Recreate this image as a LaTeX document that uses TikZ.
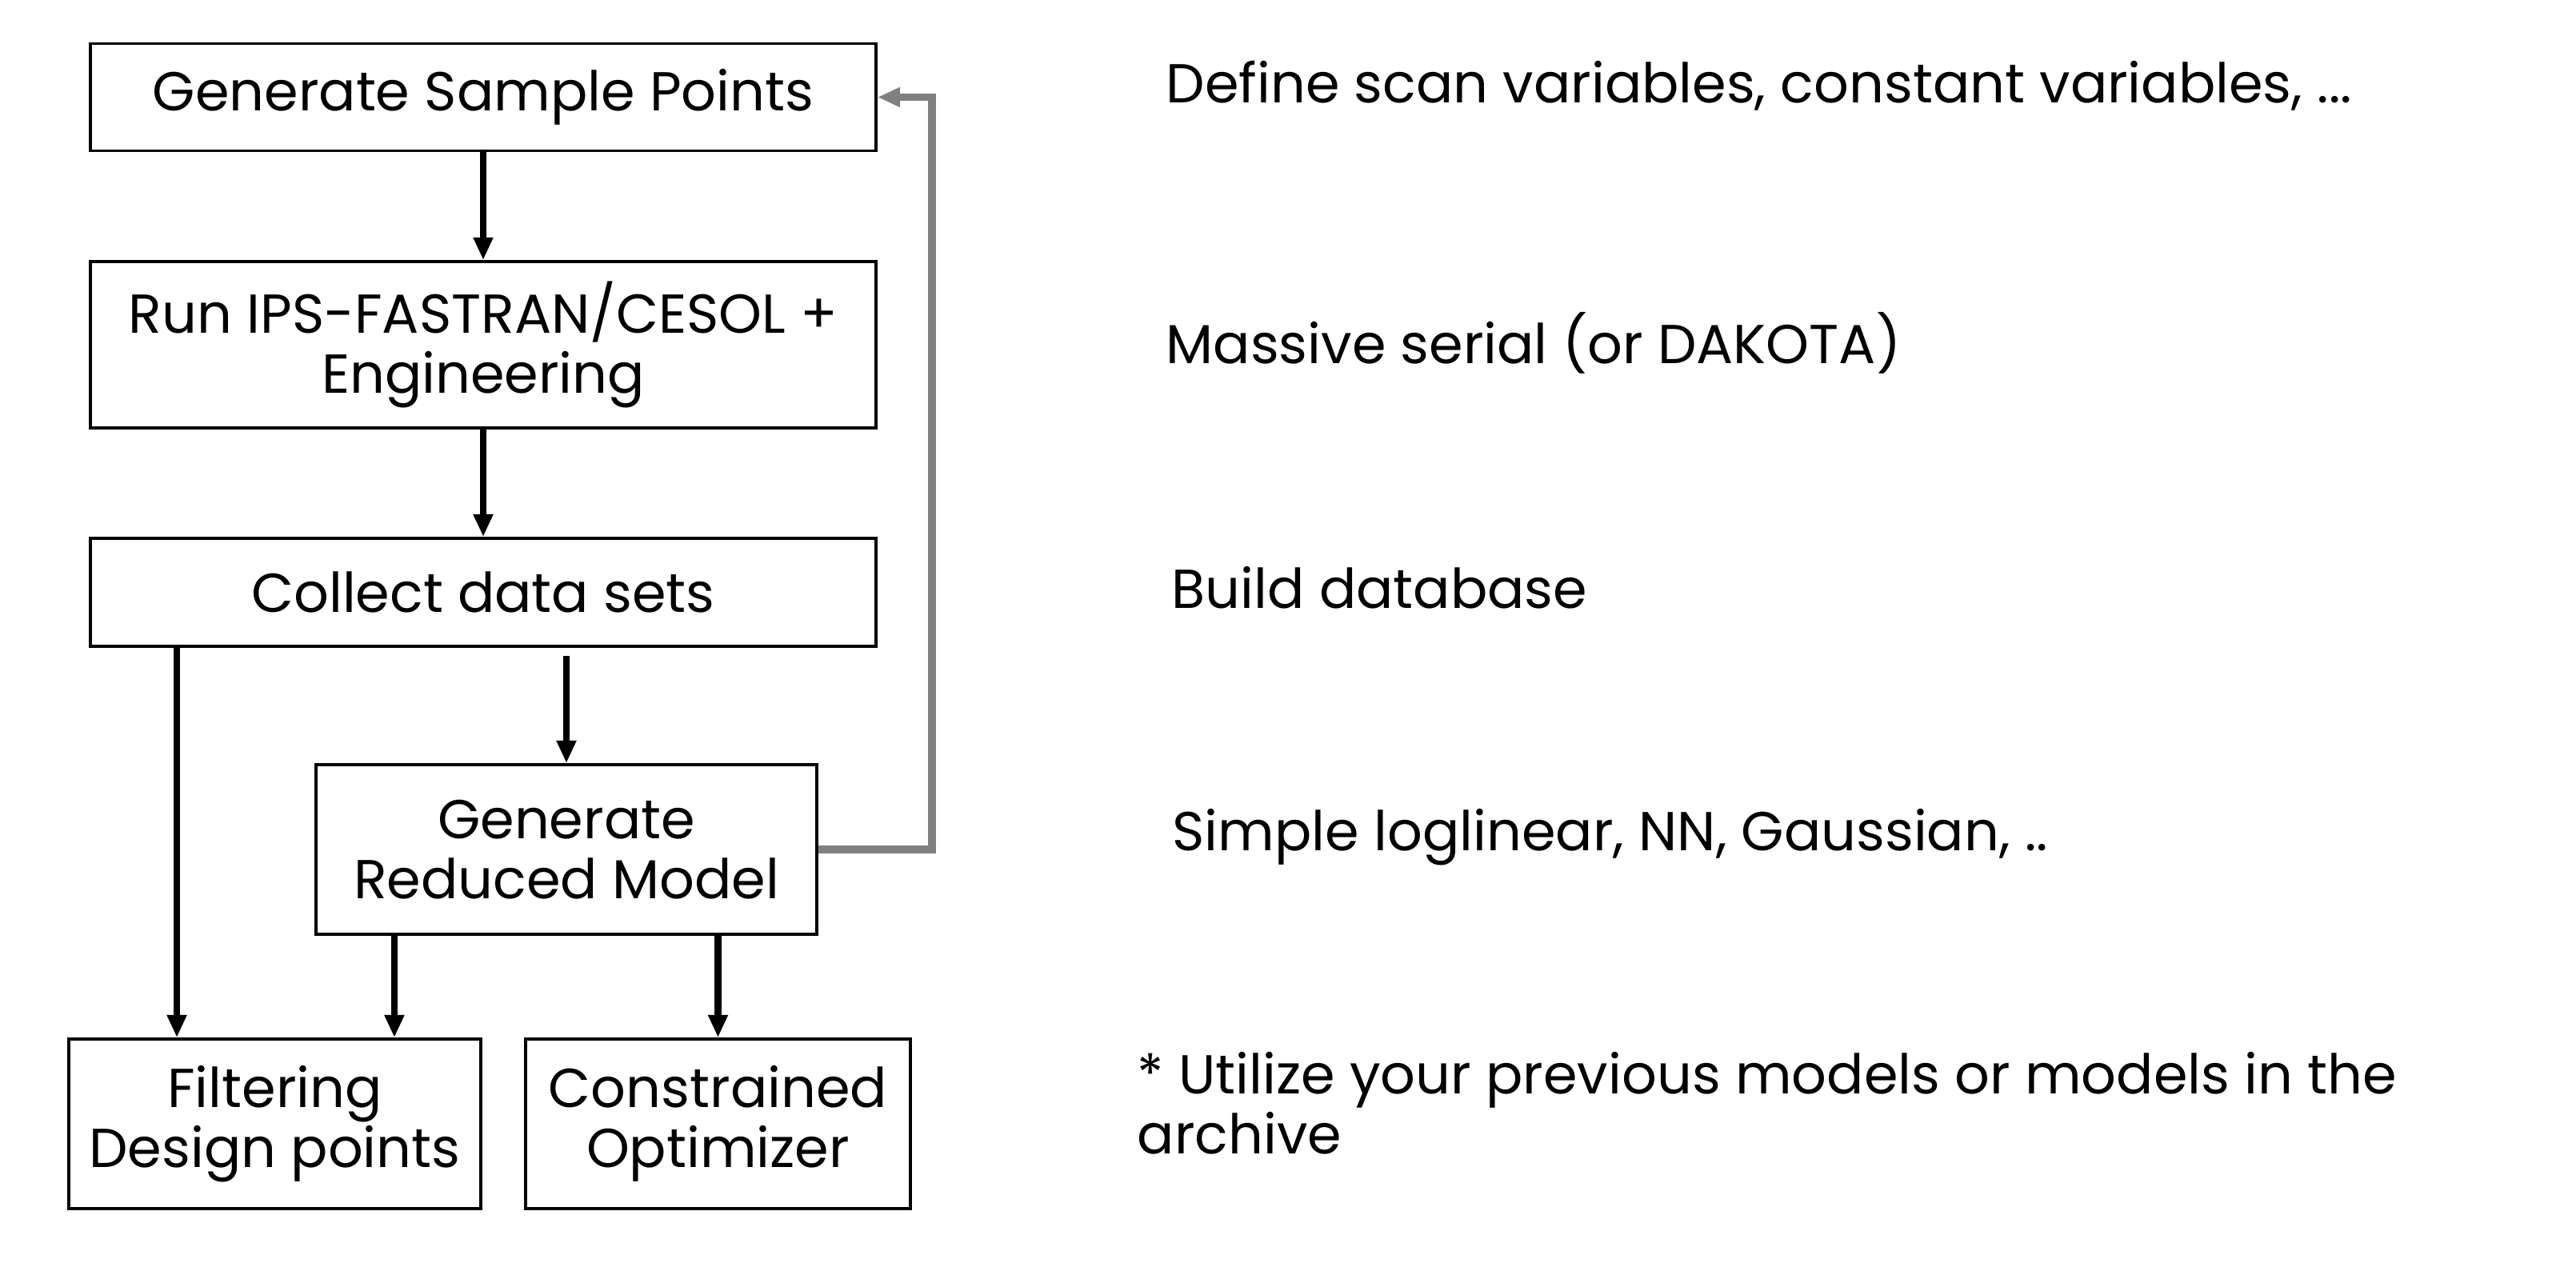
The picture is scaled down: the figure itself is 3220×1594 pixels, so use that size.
\documentclass[tikz,border=0pt]{standalone}
\usepackage{fontspec}
\setmainfont{Poppins}
\usetikzlibrary{arrows.meta,calc}
\begin{document}
\begin{tikzpicture}[x=0.01cm,y=-0.01cm,
  box/.style={draw=black,line width=1.1pt,rectangle,inner sep=0pt,align=center,
    font=\fontsize{19.5}{21.4}\selectfont},
  conn/.style={line width=2.5pt,-{Triangle[length=8pt,width=6.6pt]}},
  back/.style={draw=black!50,line width=2.8pt,-{Triangle[length=8pt,width=6.6pt]}},
  note/.style={anchor=base west,inner sep=0pt,align=left,
    font=\fontsize{19.5}{21.2}\selectfont}]
\useasboundingbox (0,0) rectangle (3220,1594);
\node[box,minimum width=982*0.01cm,minimum height=134*0.01cm] (b1) at (604,121.5) {Generate Sample Points};
\node[box,minimum width=982*0.01cm,minimum height=208*0.01cm] (b2) at (604,431) {Run IPS-FASTRAN/CESOL +\\Engineering};
\node[box,minimum width=982*0.01cm,minimum height=135*0.01cm] (b3) at (604,740.5) {Collect data sets};
\node[box,minimum width=626*0.01cm,minimum height=212*0.01cm] (b4) at (708,1062) {Generate\\Reduced Model};
\node[box,minimum width=515*0.01cm,minimum height=212*0.01cm] (b5) at (343.5,1405) {Filtering\\Design points};
\node[box,minimum width=481*0.01cm,minimum height=212*0.01cm] (b6) at (897.5,1405) {Constrained\\Optimizer};

\node[note] (n1) at (1457,129) {Define scan variables, constant variables, ...};
\node[note] (n2) at (1457,454) {Massive serial (or DAKOTA)};
\node[note] (n3) at (1464,760) {Build database};
\node[note] (n4) at (1465,1063) {Simple loglinear, NN, Gaussian, ..};
\node[note] (n5) at (1421,1442) {* Utilize your previous models or models in the\\archive};

\coordinate (fb) at (1165,0);
\coordinate (p5a) at ($(b5.north west)!0.264!(b5.north east)$);
\coordinate (p5b) at ($(b5.north west)!0.788!(b5.north east)$);

\draw[conn] (b1.south) -- (b2.north);
\draw[conn] (b2.south) -- (b3.north);
\draw[conn] ($(b3.south -| b4.north)+(0,10)$) -- (b4.north);
\draw[conn] (b3.south -| p5a) -- (p5a);
\draw[conn] (b4.south -| p5b) -- (p5b);
\draw[conn] (b4.south -| b6.north) -- (b6.north);
\draw[back] (b4.east) -- (b4.east -| fb) -- (b1.east -| fb) -- (b1.east);
\end{tikzpicture}
\end{document}
